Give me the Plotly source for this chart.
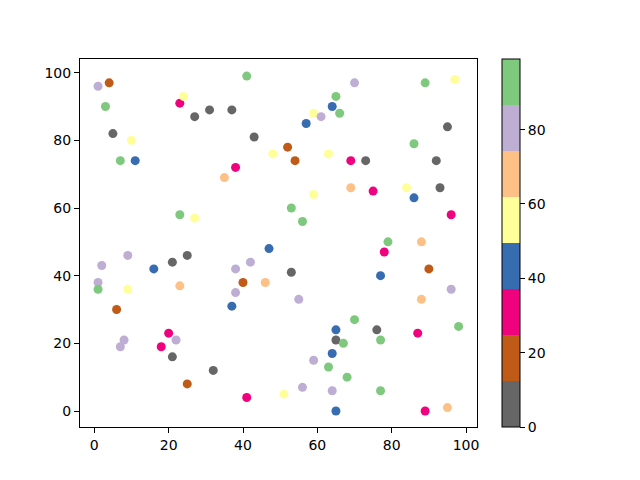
import plotly.graph_objects as go

# Category color values (one per Accent_r bin)
G, BR, P, B, Y, O, PU, GR = 5, 18, 30, 43, 55, 68, 80, 93

x_vals = [1, 4, 3, 5, 10, 7, 11, 23, 24, 27, 31, 37, 41, 43, 48, 52, 38, 35, 23, 27,
          47, 70, 89, 97, 65, 64, 59, 61, 66, 57, 95, 54, 63, 69, 73, 86, 92, 69, 75, 84,
          86, 93, 59, 53, 56, 96, 79, 88, 9, 2, 25, 21, 16, 38, 42, 1, 1, 9, 23, 40,
          46, 38, 37, 6, 8, 7, 20, 22, 18, 21, 32, 25, 41, 51, 78, 53, 77, 90, 55, 88,
          96, 70, 65, 76, 65, 67, 77, 87, 98, 64, 59, 63, 68, 56, 64, 77, 65, 89, 95]
y_vals = [96, 97, 90, 82, 80, 74, 74, 91, 93, 87, 89, 89, 99, 81, 76, 78, 72, 69, 58, 57,
          48, 97, 97, 98, 93, 90, 88, 87, 88, 85, 84, 74, 76, 74, 74, 79, 74, 66, 65, 66,
          63, 66, 64, 60, 56, 58, 50, 50, 46, 43, 46, 44, 42, 42, 44, 38, 36, 36, 37, 38,
          38, 35, 31, 30, 21, 19, 23, 21, 19, 16, 12, 8, 4, 5, 47, 41, 40, 42, 33, 33,
          36, 27, 24, 24, 21, 20, 21, 23, 25, 17, 15, 13, 10, 7, 6, 6, 0, 0, 1]
c_vals = [PU, BR, GR, G, Y, GR, B, P, Y, G, G, G, GR, G, Y, BR, P, O, GR, Y,
          B, PU, GR, Y, GR, B, Y, PU, GR, B, G, BR, Y, P, G, GR, G, O, P, Y,
          B, G, Y, GR, GR, P, GR, O, PU, PU, G, G, B, PU, PU, PU, GR, Y, O, BR,
          O, PU, B, BR, PU, PU, P, PU, P, G, G, BR, P, Y, P, G, B, BR, PU, O,
          PU, GR, B, G, G, GR, GR, P, GR, B, PU, GR, GR, PU, PU, GR, B, P, O]

colors = ["#666666", "#bf5b17", "#f0027f", "#386cb0",
          "#ffff99", "#fdc086", "#beaed4", "#7fc97f"]
cmin, cmax = 0, 99
n = len(colors)
colorscale = []
for k, col in enumerate(colors):
    colorscale.append([k / n, col])
    colorscale.append([(k + 1) / n, col])

font = dict(family="DejaVu Sans", size=14, color="black")

fig = go.Figure(go.Scatter(
    x=x_vals, y=y_vals, mode="markers",
    marker=dict(
        size=9, color=c_vals, colorscale=colorscale, cmin=cmin, cmax=cmax,
        line=dict(width=0),
        colorbar=dict(
            thickness=18, len=1, lenmode="fraction", y=0.5, yanchor="middle",
            x=1.063, xanchor="left", xpad=0, ypad=0,
            outlinewidth=1, outlinecolor="black",
            tickvals=[0, 20, 40, 60, 80], ticks="outside", ticklen=5,
            tickcolor="black", tickfont=font,
        ),
    ),
))

axis_common = dict(showgrid=False, zeroline=False, showline=True, mirror=True,
                   linecolor="black", linewidth=1, ticks="outside", ticklen=5,
                   tickcolor="black", tickfont=font)

fig.update_layout(
    width=640, height=480,
    margin=dict(l=72, r=171, t=51, b=61),
    plot_bgcolor="white", paper_bgcolor="white",
    font=font, showlegend=False,
    xaxis=dict(range=[-3.85, 102.95], tickvals=[0, 20, 40, 60, 80, 100], **axis_common),
    yaxis=dict(range=[-4.73, 104.05], tickvals=[0, 20, 40, 60, 80, 100], **axis_common),
)

fig.write_html("out.html")
